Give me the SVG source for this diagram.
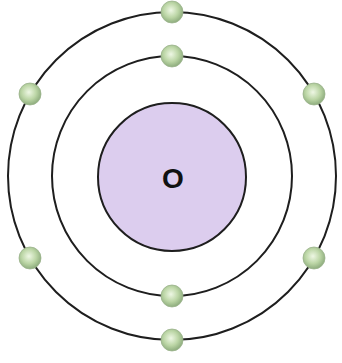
<svg xmlns="http://www.w3.org/2000/svg" width="342" height="363" viewBox="0 0 342 363">
  <defs>
    <radialGradient id="eg" cx="45%" cy="42%" r="60%">
      <stop offset="0" stop-color="#eef7e4"/>
      <stop offset="0.55" stop-color="#bcd6a6"/>
      <stop offset="1" stop-color="#8aa97a"/>
    </radialGradient>
  </defs>
  <style>
    .orbit { fill: none; stroke: #1e1e1e; stroke-width: 2; }
    .nucleus { fill: #dccdee; stroke: #1e1e1e; stroke-width: 2; }
    .electron { fill: url(#eg); stroke: #9bb28c; stroke-width: 0.8; }
    .label { font-family: "Liberation Sans", Arial, sans-serif; font-size: 28px; font-weight: bold; fill: #111; }
  </style>
  <rect width="342" height="363" fill="#ffffff"/>
  <g id="connectors">
    <circle class="orbit" cx="172" cy="176" r="164"/>
    <circle class="orbit" cx="172" cy="176" r="120"/>
  </g>
  <g id="nucleus">
    <circle class="nucleus" cx="172" cy="177" r="74"/>
    <text class="label" x="173" y="188" text-anchor="middle">O</text>
  </g>
  <g id="electron-inner-top"><circle class="electron" cx="172" cy="56" r="11"/></g>
  <g id="electron-inner-bottom"><circle class="electron" cx="172" cy="296" r="11"/></g>
  <g id="electron-outer-top"><circle class="electron" cx="172" cy="12" r="11"/></g>
  <g id="electron-outer-bottom"><circle class="electron" cx="172" cy="340" r="11"/></g>
  <g id="electron-outer-upper-left"><circle class="electron" cx="30" cy="94" r="11"/></g>
  <g id="electron-outer-lower-left"><circle class="electron" cx="30" cy="258" r="11"/></g>
  <g id="electron-outer-upper-right"><circle class="electron" cx="314" cy="94" r="11"/></g>
  <g id="electron-outer-lower-right"><circle class="electron" cx="314" cy="258" r="11"/></g>
</svg>
